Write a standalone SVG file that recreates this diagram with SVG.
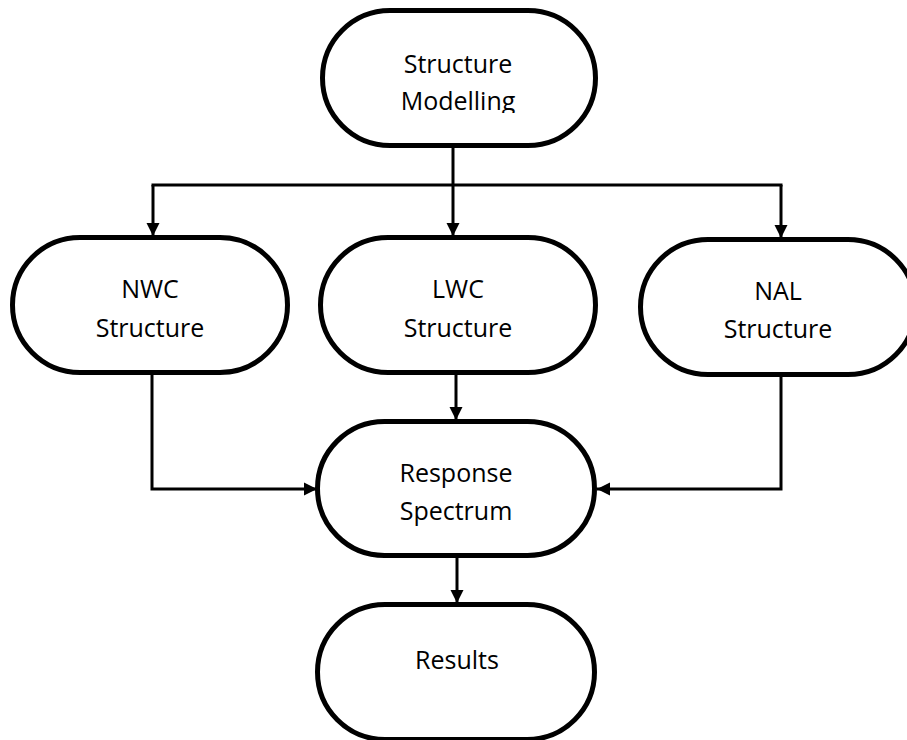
<svg xmlns="http://www.w3.org/2000/svg" width="907" height="740" viewBox="0 0 907 740">
  <style>
    .node rect { fill: #ffffff; stroke: #000000; stroke-width: 5; }
    .node text { font-family: "Open Sans", "Liberation Sans", sans-serif; font-size: 25px; fill: #000000; text-anchor: middle; }
    .conn path { fill: none; stroke: #000000; stroke-width: 3; }
  </style>
  <defs>
    <marker id="arrow" markerUnits="userSpaceOnUse" markerWidth="14" markerHeight="14" refX="13" refY="7" orient="auto">
      <path d="M0,0.5 L13,7 L0,13.5 Z" fill="#000000"/>
    </marker>
    <clipPath id="clipTop">
      <rect x="300" y="0" width="320" height="113"/>
    </clipPath>
  </defs>
  <rect x="0" y="0" width="907" height="740" fill="#ffffff"/>

  <g class="conn" id="connectors">
    <path d="M453,148 V185"/>
    <path d="M151.5,185 H782.5"/>
    <path d="M153,185 V236" marker-end="url(#arrow)"/>
    <path d="M453,185 V236" marker-end="url(#arrow)"/>
    <path d="M781,185 V238" marker-end="url(#arrow)"/>
    <path d="M152,375 V489 H317" marker-end="url(#arrow)"/>
    <path d="M456,375 V420" marker-end="url(#arrow)"/>
    <path d="M781,377 V489 H597" marker-end="url(#arrow)"/>
    <path d="M457,558 V603" marker-end="url(#arrow)"/>
  </g>

  <g class="node" id="structure-modelling">
    <rect x="322.5" y="10.5" width="273" height="135" rx="67.5" ry="67.5"/>
    <g clip-path="url(#clipTop)">
      <text x="458" y="73">Structure</text>
      <text x="458" y="110">Modelling</text>
    </g>
  </g>

  <g class="node" id="nwc-structure">
    <rect x="12.5" y="237.5" width="275" height="135" rx="67.5" ry="67.5"/>
    <text x="150" y="298">NWC</text>
    <text x="150" y="337">Structure</text>
  </g>

  <g class="node" id="lwc-structure">
    <rect x="320.5" y="237.5" width="275" height="135" rx="67.5" ry="67.5"/>
    <text x="458" y="298">LWC</text>
    <text x="458" y="337">Structure</text>
  </g>

  <g class="node" id="nal-structure">
    <rect x="640.5" y="239.5" width="275" height="135" rx="67.5" ry="67.5"/>
    <text x="778" y="300">NAL</text>
    <text x="778" y="338">Structure</text>
  </g>

  <g class="node" id="response-spectrum">
    <rect x="317.5" y="421.5" width="277" height="134" rx="67" ry="67"/>
    <text x="456" y="482">Response</text>
    <text x="456" y="520">Spectrum</text>
  </g>

  <g class="node" id="results">
    <rect x="317.5" y="604.5" width="277" height="135" rx="67.5" ry="67.5"/>
    <text x="457" y="669">Results</text>
  </g>
</svg>
